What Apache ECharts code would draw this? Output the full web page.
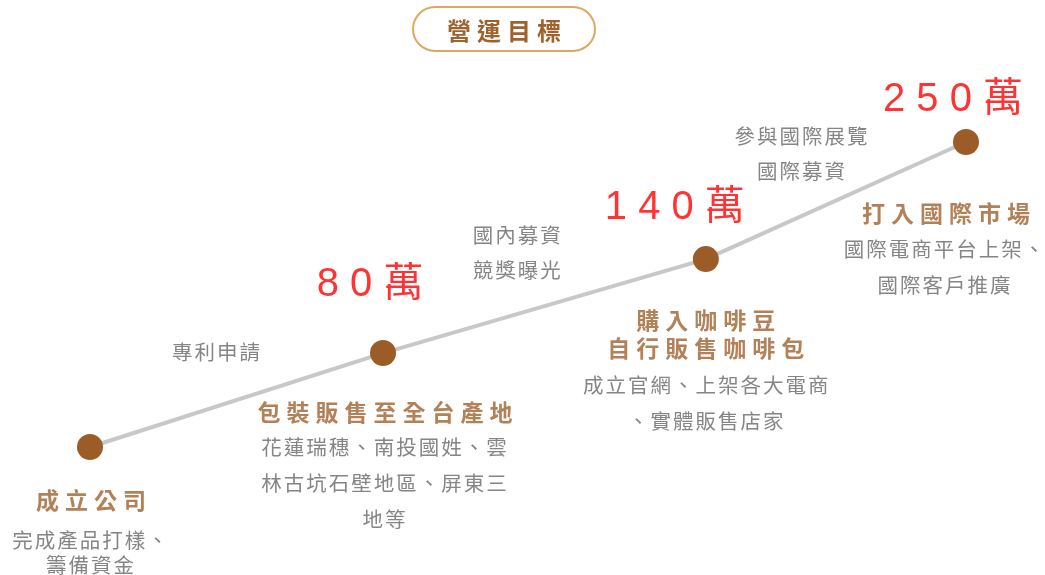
<!DOCTYPE html>
<html>
<head>
<meta charset="utf-8">
<script src="https://cdn.jsdelivr.net/npm/echarts@6/dist/echarts.min.js"></script>
<style>
html,body{margin:0;padding:0;background:#fff;}
#chart{width:1045px;height:575px;}
</style>
</head>
<body>
<div id="chart"></div>
<script>
// ---- data ----
const chartTitle = '營運目標';
const progress = [0, 33.45, 70.3, 100];          // stage position along the timeline
const levels = [0, 30.8, 61.6, 100];             // growth level of each stage
const amounts = ['', '80萬', '140萬', '250萬'];
const titles = ['成立公司', '包裝販售至全台產地', '購入咖啡豆\n自行販售咖啡包', '打入國際市場'];
const details = [
  '完成產品打樣、\n籌備資金',
  '花蓮瑞穗、南投國姓、雲\n林古坑石壁地區、屏東三\n地等',
  '成立官網、上架各大電商\n、實體販售店家',
  '國際電商平台上架、\n國際客戶推廣'
];
const notes = ['', '專利申請', '國內募資\n競獎曝光', '參與國際展覽\n國際募資'];

// ---- layout (label offsets relative to each point) ----
const amountOffsets = [null, [-13, -68], [-31, -51], [-13, -42.5]];
const titleOffsets = [[1, 53], [2, 59], [0, 75], [-20, 71]];
const detailOffsets = [[0, 105.5, 25], [1, 130, 36], [0, 144, 36], [-22, 125, 36]];
const noteOffsets = [null, [-167, -1, 36], [-189, -6.5, 35], [-165, 11.5, 35]];

const BROWN = '#9C5C28';
const TITLE_BROWN = '#A0622D';
const GRAY = '#666666';
const CJK = "'Noto Sans CJK TC', 'Noto Sans CJK SC', sans-serif";

// each character as its own rich token so that letter spacing can be applied
function richChars(s) {
  return s.split('\n').map(l => Array.from(l).map(ch => '{c|' + ch + '}').join('')).join('\n');
}
function spaced(s) {
  return s.split('\n').map(l => Array.from(l).join(' ')).join('\n');
}

const points = progress.map((x, i) => [x, levels[i]]);

function labelSeries(name, texts, offsets, style) {
  return {
    name: name,
    type: 'scatter',
    silent: true,
    symbolSize: 1,
    itemStyle: { color: 'rgba(0,0,0,0)' },
    z: 5,
    data: points.map((p, i) => {
      const off = offsets[i];
      if (!off || !texts[i]) return { value: p, label: { show: false } };
      const lh = off[2] || style.lineHeight;
      const lbl = {
        show: true,
        position: 'inside',
        align: 'center',
        verticalAlign: 'middle',
        offset: [off[0], off[1]]
      };
      if (style.rich) {
        lbl.formatter = richChars(texts[i]);
        lbl.lineHeight = lh;
        lbl.rich = {
          c: Object.assign({}, style.text, { lineHeight: lh, padding: [0, style.gap / 2] })
        };
      } else {
        lbl.formatter = spaced(texts[i]);
        Object.assign(lbl, style.text, { lineHeight: lh });
      }
      return { value: p, label: lbl };
    })
  };
}

const chart = echarts.init(document.getElementById('chart'));
chart.setOption({
  animation: false,
  backgroundColor: '#ffffff',
  title: {
    text: richChars(chartTitle),
    left: 413,
    top: 7,
    padding: [11, 31, 7, 31],
    borderColor: '#DFA862',
    borderWidth: 2,
    borderRadius: 24,
    textStyle: {
      lineHeight: 26,
      rich: {
        c: {
          color: TITLE_BROWN,
          fontSize: 24,
          fontWeight: 'bold',
          fontFamily: CJK,
          lineHeight: 26,
          padding: [0, 3]
        }
      }
    }
  },
  grid: { left: 90, right: 79, top: 142, bottom: 128 },
  xAxis: { type: 'value', min: 0, max: 100, show: false },
  yAxis: { type: 'value', min: 0, max: 100, show: false },
  series: [
    {
      name: 'timeline',
      type: 'line',
      data: points,
      symbol: 'circle',
      symbolSize: 26,
      itemStyle: { color: BROWN },
      lineStyle: { color: '#C8C8C8', width: 4 },
      silent: true,
      z: 3
    },
    labelSeries('amount', amounts, amountOffsets, {
      rich: false,
      lineHeight: 44,
      text: { color: '#FF0000', fontSize: 40, fontFamily: "'Liberation Sans', " + CJK }
    }),
    labelSeries('title', titles, titleOffsets, {
      rich: true,
      gap: 6,
      lineHeight: 28,
      text: { color: TITLE_BROWN, fontSize: 23, fontWeight: 'bold', fontFamily: CJK }
    }),
    labelSeries('detail', details, detailOffsets, {
      rich: true,
      gap: 2,
      lineHeight: 36,
      text: { color: GRAY, fontSize: 20.5, fontFamily: CJK }
    }),
    labelSeries('note', notes, noteOffsets, {
      rich: true,
      gap: 2,
      lineHeight: 36,
      text: { color: GRAY, fontSize: 20.5, fontFamily: CJK }
    })
  ]
});
</script>
</body>
</html>
